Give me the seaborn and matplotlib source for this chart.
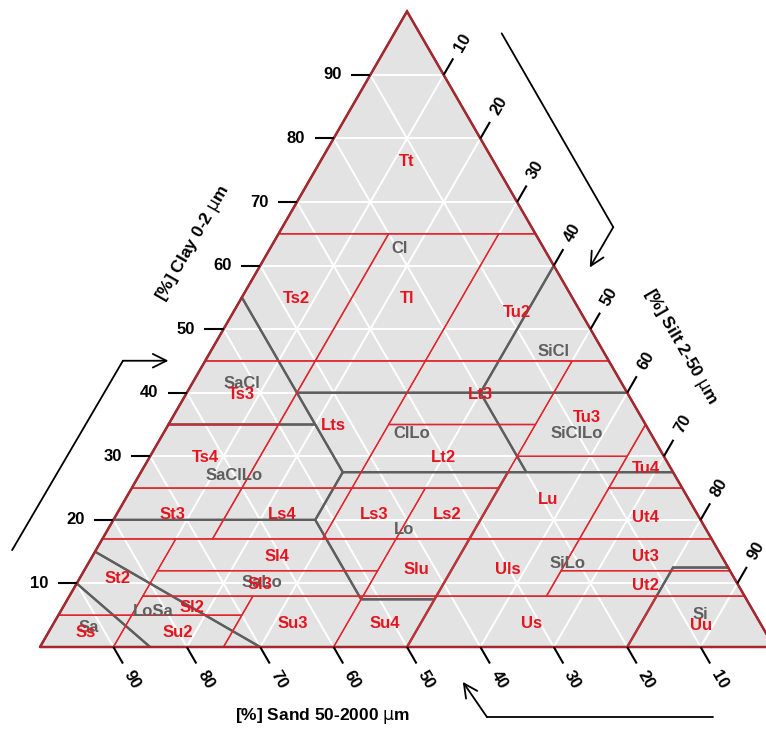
import numpy as np
import pandas as pd
import matplotlib
matplotlib.use("Agg")
import matplotlib.pyplot as plt
import seaborn as sns

# ---------------------------------------------------------------------------
# Texture classes, vertices given as (clay %, silt %); sand = 100 - clay - silt
# ---------------------------------------------------------------------------
# German KA5 classes (red)
ka5_names = ["Ss", "Su2", "Sl2", "Sl3", "St2", "Su3", "Slu", "Sl4", "St3", "Su4",
             "Ls2", "Ls3", "Ls4", "Lt2", "Lts", "Ts4", "Ts3", "Uu", "Uls", "Us",
             "Ut2", "Ut3", "Ut4", "Lu", "Lt3", "Tu3", "Tu4", "Ts2", "Tl", "Tu2", "Tt"]
ka5_clay = [
    [0, 5, 5, 0], [0, 5, 5, 0], [5, 8, 8, 5], [8, 12, 12, 8], [5, 17, 17, 5],
    [0, 8, 8, 0], [8, 17, 17, 8], [12, 17, 17, 12], [17, 25, 25, 17], [0, 8, 8, 0],
    [17, 25, 25, 17], [17, 25, 25, 17], [17, 25, 25, 17], [25, 35, 35, 25],
    [25, 45, 45, 25], [25, 35, 35, 25], [35, 45, 45, 35], [0, 8, 8, 0],
    [8, 17, 17, 8], [0, 8, 8, 0], [8, 12, 12, 8], [12, 17, 17, 12],
    [17, 25, 25, 17], [17, 30, 30, 17], [35, 45, 45, 35], [30, 45, 45, 35, 30],
    [25, 35, 25], [45, 65, 65, 45], [45, 65, 65, 45], [45, 65, 65, 45], [65, 100, 65],
]
ka5_silt = [
    [0, 0, 10, 10], [10, 10, 25, 25], [10, 10, 25, 25], [10, 10, 40, 40], [0, 0, 10, 10],
    [25, 25, 40, 40], [40, 40, 50, 50], [10, 10, 40, 40], [0, 0, 15, 15], [40, 40, 50, 50],
    [40, 40, 50, 50], [30, 30, 40, 40], [15, 15, 30, 30], [30, 30, 50, 50],
    [15, 15, 30, 30], [0, 0, 15, 15], [0, 0, 15, 15], [80, 80, 92, 100],
    [50, 50, 65, 65], [50, 50, 80, 80], [65, 65, 88, 92], [65, 65, 83, 88],
    [65, 65, 75, 83], [50, 50, 65, 65], [30, 30, 50, 50], [50, 50, 55, 65, 65],
    [65, 65, 75], [0, 0, 15, 15], [15, 15, 30, 30], [30, 30, 35, 55], [0, 0, 35],
]

# USDA classes (grey)
usda_names = ["Cl", "SiCl", "SaCl", "ClLo", "SiClLo", "SaClLo", "Lo", "SiLo",
              "Si", "SaLo", "LoSa", "Sa"]
usda_clay = [
    [100, 55, 40, 40, 60], [60, 40, 40], [55, 35, 35, 40], [40, 27.5, 27.5, 40],
    [40, 27.5, 27.5, 40], [35, 20, 20, 27.5, 35], [27.5, 20, 7.5, 7.5, 27.5],
    [27.5, 7.5, 0, 0, 12.5, 12.5, 27.5], [12.5, 0, 0, 12.5],
    [20, 15, 0, 0, 7.5, 7.5, 20], [15, 10, 0, 0], [10, 0, 0],
]
usda_silt = [
    [0, 0, 15, 40, 40], [40, 40, 60], [0, 0, 20, 15], [15, 27.5, 52.5, 40],
    [40, 52.5, 72.5, 60], [0, 0, 27.5, 27.5, 20], [27.5, 27.5, 40, 50, 50],
    [50, 50, 50, 80, 80, 87.5, 72.5], [80, 80, 100, 87.5],
    [0, 0, 30, 50, 50, 40, 27.5], [0, 0, 15, 30], [0, 0, 15],
]

tick_values = [10, 20, 30, 40, 50, 60, 70, 80, 90]
clay_title = r"[%] Clay 0-2 $\mathrm{\mu}$m"
silt_title = r"[%] Silt 2-50 $\mathrm{\mu}$m"
sand_title = r"[%] Sand 50-2000 $\mathrm{\mu}$m"

# ---------------------------------------------------------------------------
# Styling
# ---------------------------------------------------------------------------
sns.set_theme(style="white")
plt.rcParams["font.family"] = ["Liberation Sans", "DejaVu Sans"]
plt.rcParams["mathtext.fontset"] = "custom"
plt.rcParams["mathtext.rm"] = "DejaVu Sans"

FILL = "#E3E3E3"
RED_LINE = "#E0262E"
RED_TEXT = "#E3161F"
BORDER = "#A8262E"
GREY_LINE = "#5E5E5E"
GREY_TEXT = "#5F5F5F"
H = np.sqrt(3) / 2


def tern(clay, silt):
    """Ternary (clay, silt) -> cartesian; sand corner at the origin."""
    clay = np.asarray(clay, dtype=float)
    silt = np.asarray(silt, dtype=float)
    return silt + clay / 2.0, clay * H


def outline_frame(names, clays, silts):
    rows = []
    for name, cl, si in zip(names, clays, silts):
        cl = list(cl) + [cl[0]]
        si = list(si) + [si[0]]
        xs, ys = tern(cl, si)
        for k, (x, y) in enumerate(zip(xs, ys)):
            rows.append((name, k, x, y))
    return pd.DataFrame(rows, columns=["cls", "k", "X", "Y"])


def centroid(clays, silts):
    x, y = tern(clays, silts)
    x1, y1 = np.roll(x, -1), np.roll(y, -1)
    cross = x * y1 - x1 * y
    a = cross.sum() / 2.0
    return ((x + x1) * cross).sum() / (6 * a), ((y + y1) * cross).sum() / (6 * a)


# ---------------------------------------------------------------------------
# Figure: one axes covering the canvas, 7.34 px per percent unit
# ---------------------------------------------------------------------------
W_PX, H_PX = 766, 729
X0, Y0, S = 40.0, 647.0, 7.34
fig = plt.figure(figsize=(W_PX / 100, H_PX / 100), dpi=100)
ax = fig.add_axes([0, 0, 1, 1])
ax.set_xlim(-X0 / S, (W_PX - X0) / S)
ax.set_ylim((Y0 - H_PX) / S, Y0 / S)
ax.axis("off")

# triangle background
tx, ty = tern([0, 0, 100], [0, 100, 0])
ax.fill(tx, ty, color=FILL, zorder=0, lw=0)

# white 10 % grid in the three directions
grid_rows = []
for v in tick_values:
    segs = [([v, v], [0, 100 - v]),            # constant clay
            ([0, 100 - v], [v, v]),            # constant silt
            ([0, 100 - v], [100 - v, 0])]      # constant sand
    for j, (cl, si) in enumerate(segs):
        gx, gy = tern(cl, si)
        for k in range(2):
            grid_rows.append((f"{v}-{j}", k, gx[k], gy[k]))
grid_df = pd.DataFrame(grid_rows, columns=["seg", "k", "X", "Y"])
sns.lineplot(data=grid_df, x="X", y="Y", units="seg", estimator=None, sort=False,
             color="white", linewidth=1.4, ax=ax, legend=False, zorder=1)

# USDA class outlines (grey) then KA5 outlines (red)
usda_df = outline_frame(usda_names, usda_clay, usda_silt)
sns.lineplot(data=usda_df, x="X", y="Y", units="cls", estimator=None, sort=False,
             color=GREY_LINE, linewidth=1.6, ax=ax, legend=False, zorder=2)
ka5_df = outline_frame(ka5_names, ka5_clay, ka5_silt)
sns.lineplot(data=ka5_df, x="X", y="Y", units="cls", estimator=None, sort=False,
             color=RED_LINE, linewidth=1.0, ax=ax, legend=False, zorder=3)

# triangle border
ax.plot(np.append(tx, tx[0]), np.append(ty, ty[0]), color=BORDER, lw=1.7,
        zorder=4, solid_joinstyle="miter")

# class labels at polygon centroids
lab_kw = dict(fontsize=12, fontweight="bold", ha="center", va="center", zorder=6)
for name, cl, si in zip(usda_names, usda_clay, usda_silt):
    cx, cy = centroid(cl, si)
    ax.text(cx, cy - 0.2, name, color=GREY_TEXT, **lab_kw)
for name, cl, si in zip(ka5_names, ka5_clay, ka5_silt):
    cx, cy = centroid(cl, si)
    ax.text(cx, cy - 0.2, name, color=RED_TEXT, **lab_kw)

# axis ticks and tick labels
TICK_LEN, LAB_DIST = 2.6, 5.1
tk_kw = dict(color="black", lw=1.5, zorder=5, solid_capstyle="butt")
tl_kw = dict(fontsize=12, fontweight="bold", ha="center", va="center", color="black")
for v in tick_values:
    # clay: left edge, pointing left
    bx, by = tern(v, 0)
    ax.plot([bx, bx - TICK_LEN], [by, by], **tk_kw)
    ax.text(bx - LAB_DIST, by, str(v), rotation=0, **tl_kw)
    # silt: right edge, pointing up-right
    bx, by = tern(100 - v, v)
    d = np.array([0.5, H])
    ax.plot([bx, bx + TICK_LEN * d[0]], [by, by + TICK_LEN * d[1]], **tk_kw)
    ax.text(bx + LAB_DIST * d[0], by + LAB_DIST * d[1], str(v), rotation=60, **tl_kw)
    # sand: bottom edge, pointing down-right
    bx, by = tern(0, 100 - v)
    d = np.array([0.5, -H])
    ax.plot([bx, bx + TICK_LEN * d[0]], [by, by + TICK_LEN * d[1]], **tk_kw)
    ax.text(bx + LAB_DIST * d[0], by + LAB_DIST * d[1], str(v), rotation=-60, **tl_kw)

# axis titles
tt_kw = dict(fontsize=12.5, fontweight="bold", ha="center", va="center", color="black")
ax.text(20.8, 55.0, clay_title, rotation=60, **tt_kw)
ax.text(87.3, 40.9, silt_title, rotation=-60, **tt_kw)
ax.text(38.5, -9.45, sand_title, rotation=0, **tt_kw)

# reading-direction arrows
arrow_paths = [
    [(-3.8, 13.2), (11.3, 39.0), (17.5, 39.0)],     # clay
    [(62.9, 83.6), (78.1, 57.2), (74.9, 51.7)],     # silt
    [(91.7, -9.55), (60.9, -9.55), (57.6, -4.75)],  # sand
]
for path in arrow_paths:
    (xa, ya), (xb, yb), (xc, yc) = path
    ax.plot([xa, xb], [ya, yb], color="black", lw=1.3, zorder=5,
            solid_joinstyle="miter")
    ax.annotate("", xy=(xc, yc), xytext=(xb, yb),
                arrowprops=dict(arrowstyle="->,head_length=0.7,head_width=0.35",
                                color="black", lw=1.3, mutation_scale=14,
                                shrinkA=0, shrinkB=0))

fig.savefig("out.png", dpi=100)
